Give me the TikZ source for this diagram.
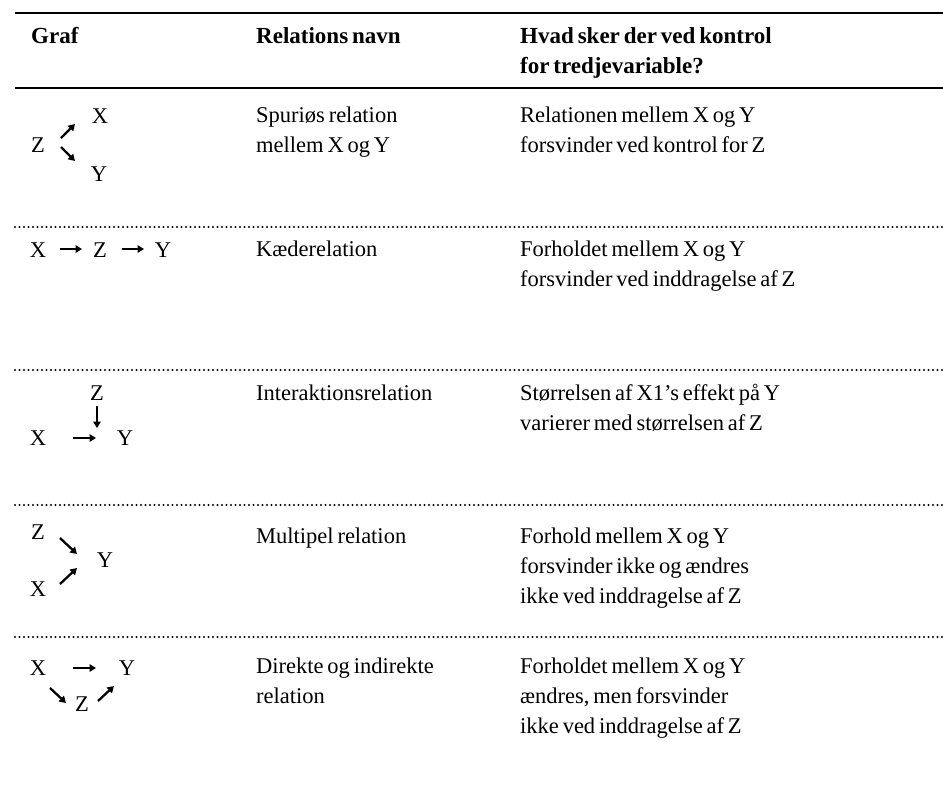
\documentclass[tikz,border=0pt]{standalone}
\usepackage{fontspec}
\setmainfont{Liberation Serif}
\usetikzlibrary{arrows.meta}
\DeclareRobustCommand\mytightsp{\spaceskip=0.17em plus 0.02em\relax\xspaceskip=0.2em\relax}
\begin{document}
\begin{tikzpicture}[x=1pt,y=-1pt,
  txt/.style={anchor=base west, inner sep=0pt, text width=400pt,
    font=\fontsize{22.5}{30}\selectfont, execute at begin node=\mytightsp},
  hdr/.style={txt, font=\fontsize{23}{30}\selectfont\bfseries},
  lbl/.style={anchor=base, inner sep=0pt, font=\fontsize{22.5}{25}\selectfont},
  arr/.style={line width=2.3pt, -{Triangle[length=6.5pt,width=7.5pt]}},
  dotrule/.style={line width=2.4pt, line cap=round, dash pattern=on 0pt off 4.5pt},
  solidrule/.style={line width=2.6pt}]
\useasboundingbox (0,0) rectangle (943,796);

% rules
\coordinate (r0l) at (15,13);  \coordinate (r0r) at (943,13);
\coordinate (r1l) at (15,88);  \coordinate (r1r) at (943,88);
\coordinate (d1l) at (15,227); \coordinate (d1r) at (943,227);
\coordinate (d2l) at (15,370); \coordinate (d2r) at (943,370);
\coordinate (d3l) at (15,505); \coordinate (d3r) at (943,505);
\coordinate (d4l) at (15,637); \coordinate (d4r) at (943,637);
\draw[solidrule] (r0l) -- (r0r);
\draw[solidrule] (r1l) -- (r1r);
\draw[dotrule] (d1l) -- (d1r);
\draw[dotrule] (d2l) -- (d2r);
\draw[dotrule] (d3l) -- (d3r);
\draw[dotrule] (d4l) -- (d4r);

% header
\node[hdr] (h1) at (31,43) {Graf};
\node[hdr] (h2) at (256,43) {Relations navn};
\node[hdr] (h3) at (520,43) {Hvad sker der ved kontrol\\for tredjevariable?};

% column 2 and 3
\node[txt] (n1) at (256,122) {Spuriøs relation\\mellem X og Y};
\node[txt] (c1) at (520,122) {Relationen mellem X og Y\\forsvinder ved kontrol for Z};
\node[txt] (n2) at (256,256) {Kæderelation};
\node[txt] (c2) at (520,256) {Forholdet mellem X og Y\\forsvinder ved inddragelse af Z};
\node[txt] (n3) at (256,400) {Interaktionsrelation};
\node[txt] (c3) at (520,400) {Størrelsen af X1’s effekt på Y\\varierer med størrelsen af Z};
\node[txt] (n4) at (256,543) {Multipel relation};
\node[txt] (c4) at (520,543) {Forhold mellem X og Y\\forsvinder ikke og ændres\\ikke ved inddragelse af Z};
\node[txt] (n5) at (256,673) {Direkte og indirekte\\relation};
\node[txt] (c5) at (520,673) {Forholdet mellem X og Y\\ændres, men forsvinder\\ikke ved inddragelse af Z};

% row 1 graph
\node[lbl] (x1) at (100,123.5) {X};
\node[lbl] (z1) at (38,152.5) {Z};
\node[lbl] (y1) at (99,181.5) {Y};
\coordinate (a1s) at (61,138); \coordinate (a1e) at (75,124);
\coordinate (a2s) at (61,147); \coordinate (a2e) at (75,161);
\draw[arr] (a1s) -- (a1e);
\draw[arr] (a2s) -- (a2e);

% row 2 graph
\node[lbl] (x2) at (38,257) {X};
\node[lbl] (z2) at (100,257) {Z};
\node[lbl] (y2) at (163,257) {Y};
\coordinate (b1s) at (60,249); \coordinate (b1e) at (82,249);
\coordinate (b2s) at (122,249); \coordinate (b2e) at (144,249);
\draw[arr] (b1s) -- (b1e);
\draw[arr] (b2s) -- (b2e);

% row 3 graph
\node[lbl] (z3) at (97,400) {Z};
\node[lbl] (x3) at (38,445) {X};
\node[lbl] (y3) at (125,445) {Y};
\coordinate (c1s) at (97,406); \coordinate (c1e) at (97,428);
\coordinate (c2s) at (73,438); \coordinate (c2e) at (96,438);
\draw[arr] (c1s) -- (c1e);
\draw[arr] (c2s) -- (c2e);

% row 4 graph
\node[lbl] (z4) at (38,539) {Z};
\node[lbl] (y4) at (105,567) {Y};
\node[lbl] (x4) at (38,596) {X};
\coordinate (e1s) at (60,538); \coordinate (e1e) at (77,554);
\coordinate (e2s) at (60,584); \coordinate (e2e) at (77,568);
\draw[arr] (e1s) -- (e1e);
\draw[arr] (e2s) -- (e2e);

% row 5 graph
\node[lbl] (x5) at (38,675) {X};
\node[lbl] (y5) at (127,675) {Y};
\node[lbl] (z5) at (82,711) {Z};
\coordinate (f1s) at (73,668); \coordinate (f1e) at (96,668);
\coordinate (f2s) at (50,688); \coordinate (f2e) at (66,703);
\coordinate (f3s) at (98,701); \coordinate (f3e) at (114,686);
\draw[arr] (f1s) -- (f1e);
\draw[arr] (f2s) -- (f2e);
\draw[arr] (f3s) -- (f3e);
\end{tikzpicture}
\end{document}
